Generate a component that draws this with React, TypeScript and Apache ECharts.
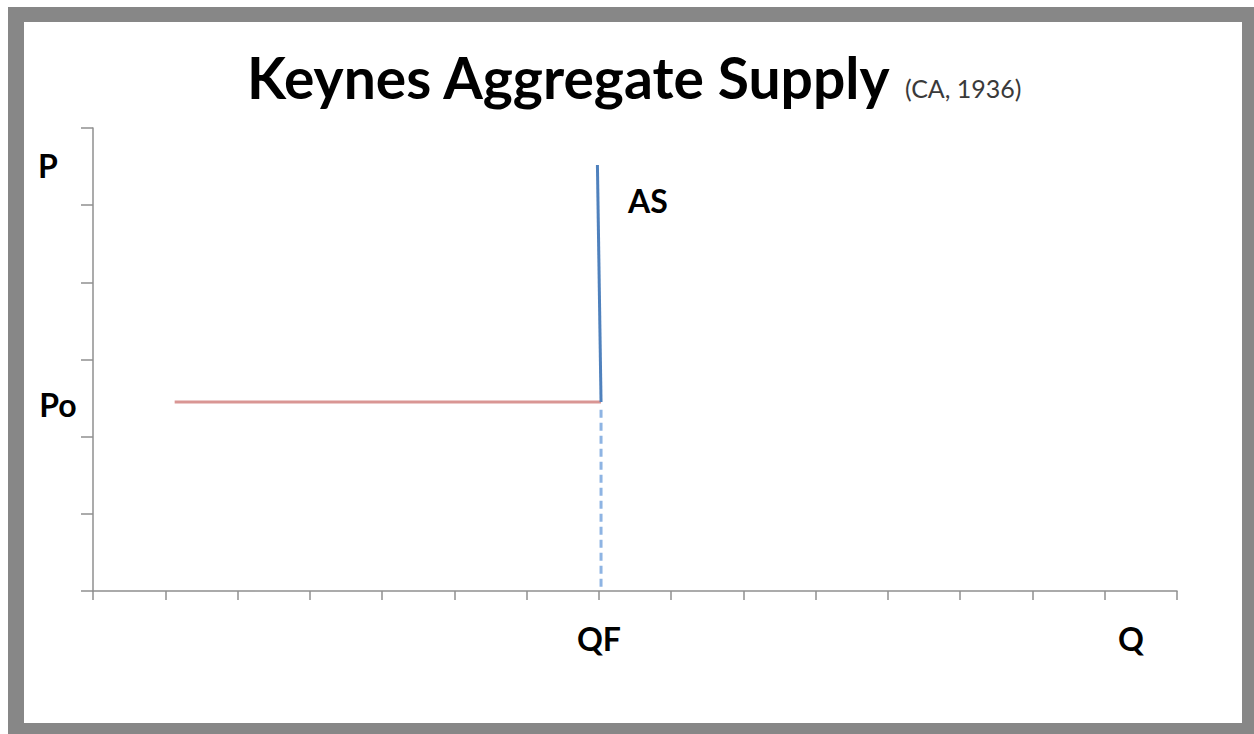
import React, { useEffect, useRef } from "react";
import * as echarts from "echarts";

const xRange = [0, 15];
const yRange = [0, 6];
const priceLevelPo = 2.45;
const fullEmploymentQF = 7.03;
const flatSegment = [
  [1.13, priceLevelPo],
  [fullEmploymentQF, priceLevelPo],
];
const verticalAS = [
  [6.98, 5.52],
  [fullEmploymentQF, priceLevelPo],
];
const dropLine = [
  [fullEmploymentQF, priceLevelPo - 0.1],
  [fullEmploymentQF, 0],
];
const titleText = "Keynes Aggregate Supply";
const subtitleText = "(CA, 1936)";
const labels = { p: "P", po: "Po", as: "AS", qf: "QF", q: "Q" };

const FONT = "Lato, 'Open Sans', sans-serif";

export default function App() {
  const ref = useRef<HTMLDivElement>(null);
  useEffect(() => {
    if (!ref.current) return;
    const chart = echarts.init(ref.current, null, { renderer: "svg" });
    const axisGray = "#8f8f8f";
    const lbl = (text: string, x: number, y: number, size = 32) => ({
      type: "text",
      x,
      y,
      style: {
        text,
        fontFamily: FONT,
        fontWeight: "bold",
        fontSize: size,
        fill: "#000",
        align: "center",
        verticalAlign: "middle",
      },
    });
    chart.setOption({
      animation: false,
      backgroundColor: "#878787",
      grid: { left: 85, top: 121, width: 1084, height: 463, containLabel: false },
      xAxis: {
        type: "value",
        min: xRange[0],
        max: xRange[1],
        interval: 1,
        axisLine: { show: true, onZero: false, lineStyle: { color: axisGray, width: 1.5 } },
        axisTick: { show: true, length: 9, lineStyle: { color: axisGray, width: 1.5 } },
        axisLabel: { show: false },
        splitLine: { show: false },
      },
      yAxis: {
        type: "value",
        min: yRange[0],
        max: yRange[1],
        interval: 1,
        axisLine: { show: true, onZero: false, lineStyle: { color: axisGray, width: 1.5 } },
        axisTick: { show: true, length: 12, lineStyle: { color: axisGray, width: 1.5 } },
        axisLabel: { show: false },
        splitLine: { show: false },
      },
      graphic: [
        {
          type: "rect",
          z: -10,
          shape: { x: 16, y: 15, width: 1218, height: 701 },
          style: { fill: "#ffffff" },
        },
        {
          type: "text",
          x: 239,
          y: 70,
          style: {
            text: titleText,
            fontFamily: FONT,
            fontWeight: "bold",
            fontSize: 57,
            fill: "#000",
            align: "left",
            verticalAlign: "middle",
          },
        },
        {
          type: "text",
          x: 897,
          y: 81,
          style: {
            text: subtitleText,
            fontFamily: FONT,
            fontSize: 25,
            fill: "#3a3a3a",
            align: "left",
            verticalAlign: "middle",
          },
        },
        lbl(labels.p, 40, 158),
        lbl(labels.po, 50, 397),
        lbl(labels.as, 640, 193),
        lbl(labels.qf, 591, 631),
        lbl(labels.q, 1123, 631),
      ],
      series: [
        {
          type: "line",
          data: flatSegment,
          symbol: "none",
          lineStyle: { color: "#d99694", width: 3 },
        },
        {
          type: "line",
          data: verticalAS,
          symbol: "none",
          lineStyle: { color: "#4f81bd", width: 3 },
        },
        {
          type: "line",
          data: dropLine,
          symbol: "none",
          lineStyle: { color: "#8eb4e3", width: 3, type: [8, 5] },
        },
      ],
    });
    return () => chart.dispose();
  }, []);
  return (
    <div
      ref={ref}
      style={{ position: "absolute", left: 8, top: 7, width: 1246, height: 727 }}
    />
  );
}
